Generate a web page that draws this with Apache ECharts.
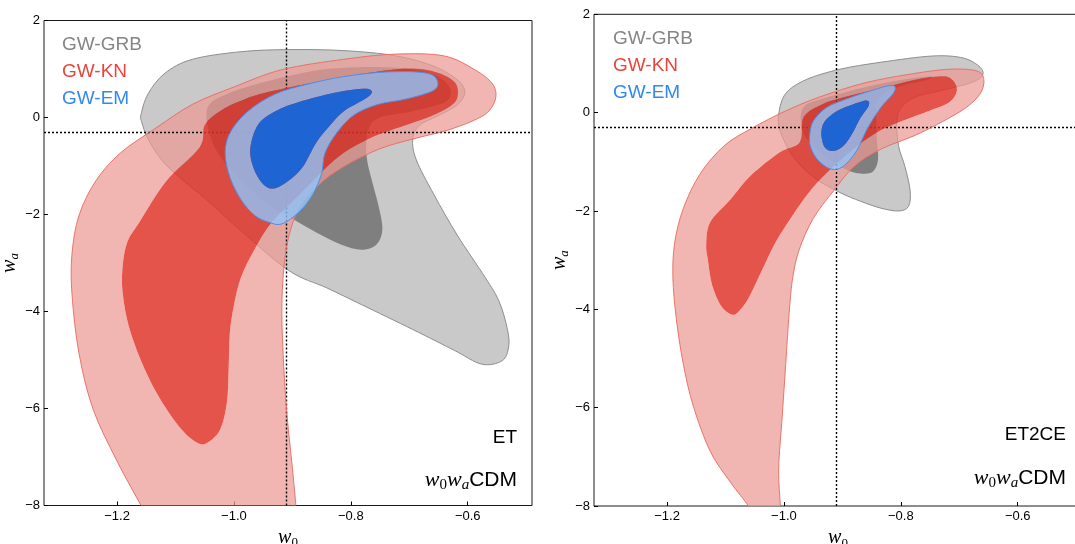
<!DOCTYPE html>
<html><head><meta charset="utf-8">
<script src="https://cdn.jsdelivr.net/npm/echarts@6/dist/echarts.min.js"></script>
<style>html,body{margin:0;padding:0;background:#fff}#c{width:1075px;height:544px}</style>
</head><body><div id="c"></div>
<script>
// ---- data (w0, wa) ----
const xTicks = [-1.2, -1.0, -0.8, -0.6];
const yRange = [-8, 2];
const fidW0 = -0.906;
const fidWa = -0.3;
const seriesNames = ['GW-GRB', 'GW-KN', 'GW-EM'];
const panelNames = ['ET', 'ET2CE'];

// ET panel
const etGrbOuter = [[-1.159,0.057],[-1.147,0.486],[-1.118,0.914],[-1.071,1.2],[-0.988,1.357],[-0.906,1.4],[-0.812,1.379],[-0.723,1.271],[-0.658,1.057],[-0.617,0.771],[-0.605,0.521],[-0.617,0.271],[-0.647,0.057],[-0.682,-0.157],[-0.694,-0.443],[-0.688,-0.871],[-0.658,-1.586],[-0.617,-2.443],[-0.570,-3.3],[-0.546,-3.8],[-0.532,-4.371],[-0.530,-4.729],[-0.541,-5.014],[-0.576,-5.086],[-0.623,-4.8],[-0.694,-4.371],[-0.782,-3.857],[-0.841,-3.514],[-0.906,-3.157],[-0.988,-2.336],[-1.047,-1.693],[-1.094,-1.229],[-1.124,-0.871],[-1.147,-0.443],[-1.158,-0.086]];
const etGrbInner = [[-1.047,0.057],[-1.040,0.30],[-1.015,0.47],[-0.970,0.66],[-0.900,0.87],[-0.841,1.0],[-0.753,1.04],[-0.676,0.95],[-0.635,0.7],[-0.635,0.343],[-0.694,0.129],[-0.753,-0.014],[-0.771,-0.3],[-0.773,-0.8],[-0.764,-1.3],[-0.753,-1.8],[-0.746,-2.3],[-0.756,-2.621],[-0.782,-2.729],[-0.817,-2.621],[-0.859,-2.371],[-0.9,-2.086],[-0.941,-1.8],[-0.988,-1.3],[-1.024,-0.8],[-1.041,-0.371]];
const etKnOuter = [[-1.153,-8.157],[-1.159,-8.0],[-1.2,-7.086],[-1.241,-6.014],[-1.265,-4.871],[-1.277,-3.657],[-1.277,-2.8],[-1.265,-2.014],[-1.236,-1.3],[-1.194,-0.729],[-1.135,-0.229],[-1.071,0.271],[-1.0,0.629],[-0.918,0.986],[-0.812,1.2],[-0.723,1.307],[-0.641,1.271],[-0.588,0.986],[-0.558,0.7],[-0.552,0.414],[-0.564,0.129],[-0.588,-0.05],[-0.635,-0.264],[-0.694,-0.443],[-0.753,-0.657],[-0.812,-1.014],[-0.853,-1.371],[-0.888,-1.871],[-0.906,-2.443],[-0.915,-3.157],[-0.918,-4.014],[-0.915,-5.086],[-0.909,-6.157],[-0.9,-7.229],[-0.894,-8.0],[-0.893,-8.23]];
const etKnInner = [[-1.191,-3.157],[-1.183,-2.586],[-1.161,-2.143],[-1.116,-1.314],[-1.059,-0.621],[-1.05,-0.157],[-1.024,0.129],[-0.988,0.343],[-0.945,0.514],[-0.831,0.793],[-0.717,1.0],[-0.658,0.95],[-0.623,0.736],[-0.617,0.45],[-0.629,0.236],[-0.664,0.021],[-0.723,-0.229],[-0.770,-0.443],[-0.812,-0.729],[-0.847,-1.086],[-0.888,-1.586],[-0.935,-2.157],[-0.965,-2.729],[-0.988,-3.3],[-1.0,-3.871],[-1.007,-4.443],[-1.009,-5.157],[-1.012,-5.871],[-1.024,-6.443],[-1.047,-6.714],[-1.065,-6.693],[-1.094,-6.371],[-1.130,-5.729],[-1.159,-5.014],[-1.180,-4.3],[-1.190,-3.657]];
const etEmOuter = [[-1.015,-0.729],[-1.006,-0.3],[-0.976,0.129],[-0.929,0.486],[-0.870,0.7],[-0.812,0.843],[-0.753,0.929],[-0.694,0.943],[-0.661,0.879],[-0.651,0.7],[-0.661,0.543],[-0.706,0.379],[-0.753,0.271],[-0.794,0.057],[-0.823,-0.3],[-0.844,-0.729],[-0.850,-1.157],[-0.865,-1.586],[-0.888,-1.943],[-0.918,-2.193],[-0.941,-2.157],[-0.965,-2.014],[-0.988,-1.693],[-1.007,-1.229]];
const etEmInner = [[-0.972,-0.657],[-0.959,-0.157],[-0.929,0.129],[-0.882,0.343],[-0.823,0.521],[-0.776,0.593],[-0.764,0.521],[-0.776,0.379],[-0.812,0.129],[-0.835,-0.157],[-0.859,-0.514],[-0.882,-1.014],[-0.906,-1.3],[-0.929,-1.457],[-0.947,-1.407],[-0.965,-1.086]];

// ET2CE panel
const ceGrbOuter = [[-1.009,-0.035],[-0.997,0.389],[-0.962,0.671],[-0.904,0.883],[-0.834,1.025],[-0.746,1.152],[-0.693,1.11],[-0.664,0.919],[-0.661,0.742],[-0.682,0.601],[-0.728,0.459],[-0.775,0.318],[-0.799,0.106],[-0.807,-0.177],[-0.804,-0.671],[-0.793,-1.095],[-0.784,-1.59],[-0.787,-1.908],[-0.804,-2.0],[-0.834,-1.943],[-0.869,-1.802],[-0.904,-1.625],[-0.950,-1.307],[-0.985,-0.883],[-1.006,-0.389]];
const ceGrbInner = [[-0.971,-0.035],[-0.963,0.15],[-0.940,0.26],[-0.900,0.40],[-0.860,0.52],[-0.822,0.62],[-0.780,0.70],[-0.750,0.74],[-0.752,0.68],[-0.790,0.57],[-0.825,0.42],[-0.842,0.2],[-0.842,0.035],[-0.841,-0.530],[-0.839,-0.954],[-0.848,-1.201],[-0.869,-1.237],[-0.892,-1.166],[-0.921,-0.954],[-0.950,-0.671],[-0.968,-0.389]];
const ceKnOuter = [[-1.060,-8.16],[-1.061,-8.0],[-1.091,-7.527],[-1.126,-6.890],[-1.155,-5.972],[-1.172,-5.124],[-1.184,-4.205],[-1.190,-3.357],[-1.187,-2.650],[-1.172,-1.943],[-1.143,-1.237],[-1.102,-0.671],[-1.055,-0.318],[-0.997,0.035],[-0.939,0.318],[-0.863,0.601],[-0.787,0.777],[-0.717,0.883],[-0.670,0.848],[-0.658,0.671],[-0.664,0.389],[-0.688,0.106],[-0.728,-0.177],[-0.775,-0.459],[-0.834,-0.742],[-0.880,-1.095],[-0.915,-1.590],[-0.950,-2.155],[-0.974,-2.792],[-0.985,-3.357],[-0.991,-4.064],[-0.997,-5.124],[-1.003,-6.184],[-1.009,-7.244],[-1.006,-8.0],[-1.005,-8.16]];
const ceKnInner = [[-1.133,-2.671],[-1.126,-2.226],[-1.092,-1.774],[-1.058,-1.293],[-1.007,-0.806],[-0.973,-0.601],[-0.966,-0.085],[-0.933,0.177],[-0.896,0.318],[-0.834,0.495],[-0.775,0.671],[-0.728,0.742],[-0.711,0.657],[-0.704,0.445],[-0.717,0.212],[-0.752,0.035],[-0.799,-0.177],[-0.839,-0.389],[-0.874,-0.671],[-0.909,-1.025],[-0.950,-1.519],[-0.985,-2.085],[-1.015,-2.650],[-1.038,-3.216],[-1.061,-3.781],[-1.079,-4.064],[-1.091,-4.099],[-1.108,-3.922],[-1.123,-3.498],[-1.130,-3.004]];
const ceEmOuter = [[-0.956,-0.459],[-0.950,-0.177],[-0.927,0.106],[-0.892,0.283],[-0.857,0.424],[-0.822,0.544],[-0.810,0.530],[-0.813,0.389],[-0.834,0.106],[-0.857,-0.318],[-0.874,-0.742],[-0.892,-1.025],[-0.909,-1.152],[-0.927,-1.110],[-0.945,-0.919],[-0.955,-0.671]];
const ceEmInner = [[-0.936,-0.424],[-0.930,-0.177],[-0.909,0.035],[-0.880,0.177],[-0.858,0.247],[-0.855,0.141],[-0.869,-0.106],[-0.883,-0.424],[-0.898,-0.671],[-0.915,-0.777],[-0.930,-0.707]];

// ---- styles ----
const ST = {
  grbOuter: {fill:'#c9c9c9', stroke:'#8e8e8e', lineWidth:1},
  grbInner: {fill:'#7f7f7f', stroke:null, lineWidth:0},
  knOuter: {fill:'rgba(236,154,148,0.72)', stroke:'rgba(233,110,100,0.95)', lineWidth:1},
  knInner: {fill:'rgba(224,51,40,0.84)', stroke:null, lineWidth:0},
  emOuter: {fill:'rgba(142,198,254,0.79)', stroke:'#4f8ee6', lineWidth:1},
  emInner: {fill:'#1e64d2', stroke:null, lineWidth:0}
};
const legendColors = ['#858585', '#e8463c', '#3388ee'];

// closed Catmull-Rom curve through pixel points -> SVG path
function area(p) { let a = 0; for (let i = 0; i < p.length; i++) { const q = p[(i + 1) % p.length]; a += p[i][0] * q[1] - q[0] * p[i][1]; } return a; }
function closedPath(p) {
  const n = p.length; let d = 'M' + p[0][0].toFixed(2) + ' ' + p[0][1].toFixed(2);
  for (let i = 0; i < n; i++) {
    const p0 = p[(i - 1 + n) % n], p1 = p[i], p2 = p[(i + 1) % n], p3 = p[(i + 2) % n];
    const c1 = [p1[0] + (p2[0] - p0[0]) / 6, p1[1] + (p2[1] - p0[1]) / 6];
    const c2 = [p2[0] - (p3[0] - p1[0]) / 6, p2[1] - (p3[1] - p1[1]) / 6];
    d += 'C' + c1[0].toFixed(2) + ' ' + c1[1].toFixed(2) + ' ' + c2[0].toFixed(2) + ' ' + c2[1].toFixed(2) + ' ' + p2[0].toFixed(2) + ' ' + p2[1].toFixed(2);
  }
  return d + 'Z';
}

// region = outer contour, optional hole (inner contour), filled / stroked
function region(outer, hole, gi, fill, stroke, lw, z) {
  return {
    type: 'custom', xAxisIndex: gi, yAxisIndex: gi, clip: true, silent: true, z: z,
    data: [0],
    renderItem: function (params, api) {
      const po = outer.map(p => api.coord(p));
      let d = closedPath(po);
      if (hole) {
        let ph = hole.map(p => api.coord(p));
        if (Math.sign(area(ph)) === Math.sign(area(po))) ph = ph.slice().reverse();
        d += closedPath(ph);
      }
      return {type: 'path', shape: {pathData: d},
        style: {fill: fill || 'none', stroke: stroke || 'none', lineWidth: lw || 0}};
    }
  };
}

const mathRich = {
  m: {fontFamily: 'Liberation Serif', fontStyle: 'italic', fontSize: 22, lineHeight: 26, verticalAlign: 'middle', color: '#000'},
  s: {fontFamily: 'Liberation Serif', fontSize: 15, lineHeight: 14, verticalAlign: 'bottom', color: '#000'},
  si: {fontFamily: 'Liberation Serif', fontStyle: 'italic', fontSize: 15, lineHeight: 14, verticalAlign: 'bottom', color: '#000'},
  t: {fontFamily: 'Liberation Sans', fontSize: 21, lineHeight: 26, verticalAlign: 'middle', color: '#000'}
};
const axisRich = {
  m: {fontFamily: 'Liberation Serif', fontStyle: 'italic', fontSize: 20, lineHeight: 24, verticalAlign: 'middle', color: '#000'},
  s: {fontFamily: 'Liberation Serif', fontSize: 13, lineHeight: 13, verticalAlign: 'bottom', color: '#000'},
  si: {fontFamily: 'Liberation Serif', fontStyle: 'italic', fontSize: 13, lineHeight: 13, verticalAlign: 'bottom', color: '#000'}
};

const fmtX = v => (v < 0 ? '\u2212' : '') + Math.abs(v).toFixed(1);
const fmtY = v => (v < 0 ? '\u2212' : '') + Math.abs(v);

const grids = [
  {left: 44, top: 20.5, width: 488, height: 485},
  {left: 594, top: 14.3, width: 488, height: 491.7}
];

function xAxisFor(gi) {
  return {
    gridIndex: gi, type: 'value', min: -1.325, max: -0.49,
    splitLine: {show: false}, axisLine: {show: false, onZero: false},
    axisTick: {inside: true, length: 4, customValues: xTicks, lineStyle: {color: '#000'}},
    axisLabel: {customValues: xTicks, formatter: fmtX, color: '#000', fontSize: 13, fontFamily: 'Liberation Sans', margin: 4},
    name: '{m|w}{s|0}', nameLocation: 'middle', nameGap: 20,
    nameTextStyle: {rich: axisRich}
  };
}
function yAxisFor(gi) {
  return {
    gridIndex: gi, type: 'value', min: yRange[0], max: yRange[1], interval: 2,
    splitLine: {show: false}, axisLine: {show: false, onZero: false},
    axisTick: {inside: true, length: 4, lineStyle: {color: '#000'}},
    axisLabel: {formatter: fmtY, color: '#000', fontSize: 13, fontFamily: 'Liberation Sans', margin: 4},
    name: '{m|w}{si|a}', nameLocation: 'middle', nameGap: 9, nameRotate: 90,
    nameTextStyle: {rich: axisRich}
  };
}

const panels = [
  {grbO: etGrbOuter, grbI: etGrbInner, knO: etKnOuter, knI: etKnInner, emO: etEmOuter, emI: etEmInner},
  {grbO: ceGrbOuter, grbI: ceGrbInner, knO: ceKnOuter, knI: ceKnInner, emO: ceEmOuter, emI: ceEmInner}
];

const series = [];
panels.forEach((P, gi) => {
  series.push(region(P.grbO, null, gi, ST.grbOuter.fill, ST.grbOuter.stroke, ST.grbOuter.lineWidth, 2));
  series.push(region(P.grbI, null, gi, ST.grbInner.fill, null, 0, 3));
  series.push(region(P.knO, P.knI, gi, ST.knOuter.fill, null, 0, 4));
  series.push(region(P.knO, null, gi, null, ST.knOuter.stroke, ST.knOuter.lineWidth, 5));
  series.push(region(P.knI, null, gi, ST.knInner.fill, null, 0, 6));
  series.push(region(P.emO, P.emI, gi, ST.emOuter.fill, null, 0, 7));
  series.push(region(P.emO, null, gi, null, ST.emOuter.stroke, ST.emOuter.lineWidth, 8));
  series.push(region(P.emI, null, gi, ST.emInner.fill, null, 0, 9));
  series.push({
    type: 'scatter', xAxisIndex: gi, yAxisIndex: gi, data: [], z: 20, silent: true,
    markLine: {
      silent: true, symbol: 'none', animation: false, label: {show: false},
      lineStyle: {color: '#000', type: [2, 2], width: 1.4},
      data: [{xAxis: fidW0}, {yAxis: fidWa}]
    }
  });
});

// text overlays
const legendPos = [{x: 62, y: 44.5}, {x: 613, y: 38.5}];
const graphic = [];
legendPos.forEach((p, gi) => {
  seriesNames.forEach((n, i) => {
    graphic.push({type: 'text', x: p.x, y: p.y + i * 27, silent: true, z: 50,
      style: {text: n, fill: legendColors[i], font: '19px "Liberation Sans"', align: 'left', verticalAlign: 'middle'}});
  });
});
const panelLabelPos = [{x: 517, y: 438, y2: 480}, {x: 1066, y: 435, y2: 478}];
panelLabelPos.forEach((p, gi) => {
  graphic.push({type: 'text', x: p.x, y: p.y, silent: true, z: 50,
    style: {text: panelNames[gi], fill: '#000', font: '19px "Liberation Sans"', align: 'right', verticalAlign: 'middle'}});
  graphic.push({type: 'text', x: p.x, y: p.y2, silent: true, z: 50,
    style: {text: '{m|w}{s|0}{m|w}{si|a}{t|CDM}', rich: mathRich, align: 'right', verticalAlign: 'middle'}});
});

const chart = echarts.init(document.getElementById('c'), null, {renderer: 'canvas'});
chart.setOption({
  animation: false,
  backgroundColor: '#fff',
  grid: grids.map(g => Object.assign({show: true, borderColor: '#1a1a1a', borderWidth: 1, backgroundColor: 'transparent', containLabel: false, outerBoundsMode: 'none'}, g)),
  xAxis: [xAxisFor(0), xAxisFor(1)],
  yAxis: [yAxisFor(0), yAxisFor(1)],
  series: series,
  graphic: graphic
});
</script></body></html>
